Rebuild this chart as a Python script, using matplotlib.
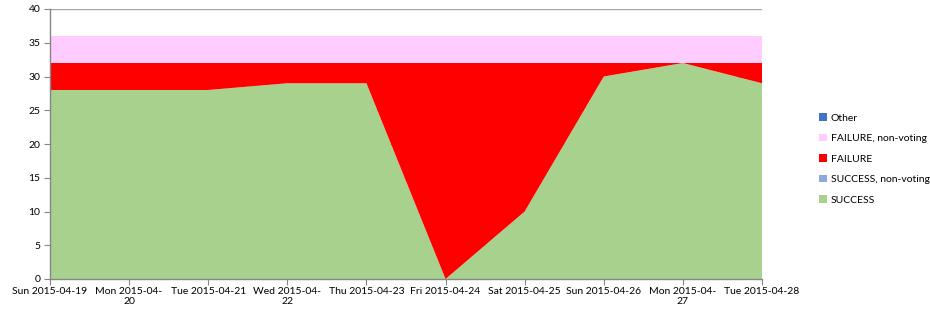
import matplotlib
matplotlib.use("Agg")
import matplotlib.pyplot as plt
import numpy as np
from matplotlib.patches import Patch

categories = ["Sun 2015-04-19", "Mon 2015-04-\n20", "Tue 2015-04-21", "Wed 2015-04-\n22",
              "Thu 2015-04-23", "Fri 2015-04-24", "Sat 2015-04-25", "Sun 2015-04-26",
              "Mon 2015-04-\n27", "Tue 2015-04-28"]
success = [28, 28, 28, 29, 29, 0, 10, 30, 32, 29]
success_nonvoting = [0, 0, 0, 0, 0, 0, 0, 0, 0, 0]
failure = [4, 4, 4, 3, 3, 32, 22, 2, 0, 3]
failure_nonvoting = [4, 4, 4, 4, 4, 4, 4, 4, 4, 4]
other = [0, 0, 0, 0, 0, 0, 0, 0, 0, 0]

series_names = ["SUCCESS", "SUCCESS, non-voting", "FAILURE", "FAILURE, non-voting", "Other"]
series = [success, success_nonvoting, failure, failure_nonvoting, other]
colors = ["#A9D18E", "#8EA9DB", "#FF0000", "#FFCCFF", "#4472C4"]

plt.rcParams['font.family'] = ['Lato', 'DejaVu Sans']
fig = plt.figure(figsize=(9.3, 3.18), dpi=100)
ax = fig.add_axes([50/930, 1-279/318, (762-50)/930, (279-9)/318])

x = np.arange(len(categories))
ax.stackplot(x, *series, colors=colors, linewidth=0, zorder=2)

ax.set_xlim(0, len(categories)-1)
ax.set_ylim(0, 40)
ax.set_yticks(np.arange(0, 41, 5))
ax.set_xticks(x)
ax.set_xticklabels(categories, fontsize=7.5, linespacing=1.1)
ax.tick_params(axis='y', labelsize=7.5, length=4, color='#868686', pad=3)
ax.tick_params(axis='x', length=4, color='#868686', pad=2)
ax.yaxis.grid(True, color='#A6A6A6', linewidth=1, zorder=0)
ax.set_axisbelow(True)
for s in ['top', 'right']:
    ax.spines[s].set_visible(False)
for s in ['left', 'bottom']:
    ax.spines[s].set_color('#868686')
    ax.spines[s].set_linewidth(1)

handles = [Patch(facecolor=c, edgecolor='none') for c in colors][::-1]
labels = series_names[::-1]
leg = fig.legend(handles, labels, loc='center left', bbox_to_anchor=(814/930, 1-159/318),
                 frameon=False, fontsize=7.5, handlelength=0.7, handleheight=0.7,
                 handletextpad=0.4, labelspacing=1.07, borderpad=0)

fig.savefig("out.png", dpi=100)
